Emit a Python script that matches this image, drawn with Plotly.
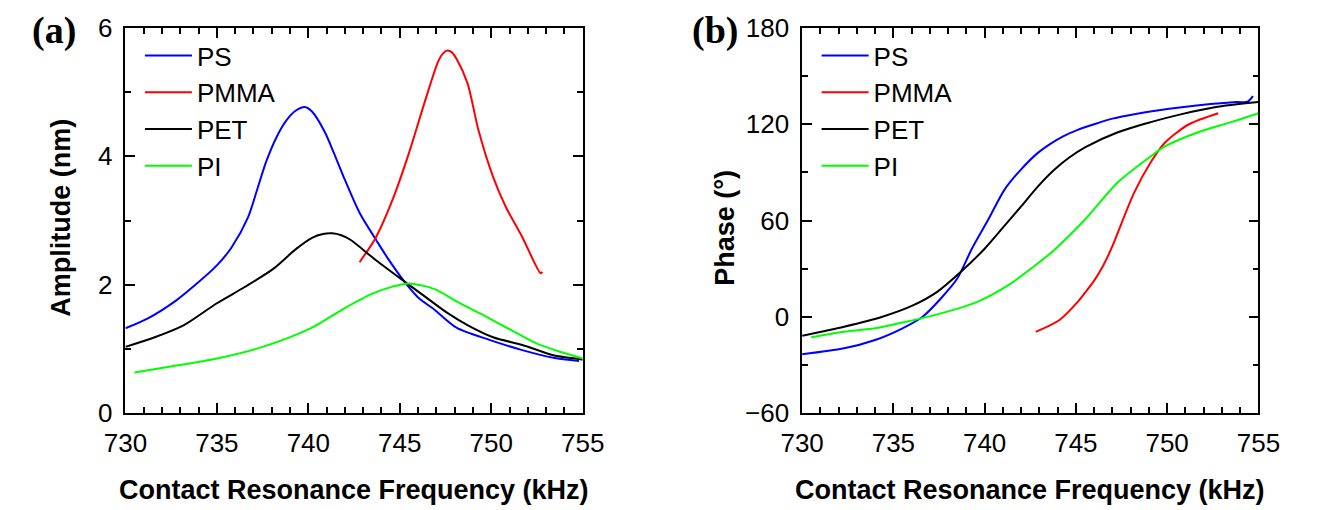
import plotly.graph_objects as go

# ---------------- data ----------------
# (a) Amplitude (nm) vs contact resonance frequency (kHz)
ps_amp_f = [730.0, 731.2, 732.8, 734.0, 735.0, 735.8, 736.7, 737.2, 737.7, 738.3, 738.8, 739.3, 739.8,
            740.2, 740.9, 741.4, 741.9, 742.8, 743.7, 744.3, 745.3, 746.0, 746.9, 748.1, 749.9,
            751.7, 753.4, 754.8]
ps_amp = [1.32, 1.47, 1.76, 2.04, 2.30, 2.58, 3.05, 3.48, 3.92, 4.32, 4.56, 4.71, 4.77,
          4.70, 4.38, 4.05, 3.70, 3.12, 2.70, 2.43, 2.03, 1.80, 1.61, 1.33, 1.14,
          0.98, 0.86, 0.81]

pmma_amp_f = [742.8, 743.7, 744.6, 745.5, 746.4, 747.1, 747.35, 747.6, 747.85, 748.1, 748.7, 749.3,
              750.1, 750.8, 751.7, 752.7, 752.8]
pmma_amp = [2.35, 2.74, 3.32, 4.05, 4.88, 5.48, 5.60, 5.65, 5.62, 5.52, 5.14, 4.41,
            3.68, 3.21, 2.74, 2.18, 2.20]

pet_amp_f = [730.0, 731.6, 733.2, 735.0, 736.5, 738.1, 739.3, 740.2, 740.8, 741.3, 741.8, 742.3,
             743.7, 745.3, 746.4, 747.6, 748.7, 750.1, 751.7, 753.4, 754.8, 755.0]
pet_amp = [1.03, 1.18, 1.37, 1.71, 1.96, 2.25, 2.55, 2.73, 2.79, 2.80, 2.77, 2.70,
           2.38, 2.04, 1.81, 1.56, 1.37, 1.18, 1.06, 0.90, 0.84, 0.83]

pi_amp_f = [730.5, 732.4, 735.0, 737.5, 740.2, 741.9, 743.5, 744.6, 745.5, 746.9, 748.1, 749.6,
            751.1, 752.5, 753.8, 755.0]
pi_amp = [0.63, 0.72, 0.85, 1.03, 1.33, 1.62, 1.86, 1.97, 2.02, 1.93, 1.74, 1.52,
          1.29, 1.08, 0.95, 0.85]

# (b) Phase (deg) vs contact resonance frequency (kHz)
ps_ph_f = [730.0, 732.3, 734.0, 735.5, 736.6, 737.6, 738.5, 739.3, 740.2, 741.1, 742.0, 742.9,
           743.6, 744.3, 745.1, 746.0, 747.0, 748.2, 750.8, 753.8, 754.4, 754.7]
ps_ph = [-23.4, -19.7, -14.5, -7.2, 0.0, 11.4, 23.8, 42.4, 60.6, 79.4, 91.9, 102.0,
         107.8, 112.5, 116.5, 120.0, 123.5, 126.3, 130.6, 133.8, 134.0, 137.5]

pmma_ph_f = [742.8, 744.1, 745.1, 745.5, 746.0, 746.5, 747.0, 747.3, 748.2, 749.1, 749.9, 751.2, 752.8]
pmma_ph = [-9.4, -2.0, 9.3, 15.0, 22.5, 32.0, 44.0, 52.5, 77.5, 96.3, 108.8, 120.0, 126.9]

pet_ph_f = [730.0, 732.3, 734.4, 736.1, 737.4, 738.7, 740.0, 741.0, 742.0, 742.9, 743.8, 744.6,
            745.5, 747.3, 749.1, 750.8, 752.6, 755.0]
pet_ph = [-11.8, -6.2, 0.0, 7.2, 15.5, 28.0, 42.4, 55.5, 68.8, 81.0, 91.5, 99.0,
          105.6, 115.0, 121.3, 126.3, 130.6, 133.8]

pi_ph_f = [730.5, 732.3, 734.0, 735.7, 737.6, 739.6, 741.3, 742.6, 743.8, 745.5, 747.3, 749.1,
           749.9, 751.7, 753.5, 755.0]
pi_ph = [-12.8, -9.3, -7.2, -3.1, 2.1, 9.3, 19.7, 30.5, 41.5, 60.6, 83.8, 100.0,
         106.3, 115.0, 121.3, 126.9]

series_names = ["PS", "PMMA", "PET", "PI"]
series_colors = ["#0000FF", "#FF0000", "#000000", "#00FF00"]

x_ticks = [730, 735, 740, 745, 750, 755]
amp_ticks = [0, 2, 4, 6]
phase_ticks = [-60, 0, 60, 120, 180]

x_title = "Contact Resonance Frequency (kHz)"
amp_title = "Amplitude (nm)"
phase_title = "Phase (°)"

# ---------------- figure ----------------
W, H = 1321, 510
FONT = "Liberation Sans, Arial, sans-serif"
fig = go.Figure()

amp_sets = [(ps_amp_f, ps_amp), (pmma_amp_f, pmma_amp), (pet_amp_f, pet_amp), (pi_amp_f, pi_amp)]
ph_sets = [(ps_ph_f, ps_ph), (pmma_ph_f, pmma_ph), (pet_ph_f, pet_ph), (pi_ph_f, pi_ph)]

for name, col, (fx, fy) in zip(series_names, series_colors, amp_sets):
    fig.add_trace(go.Scatter(x=fx, y=fy, mode="lines", name=name,
                             line=dict(color=col, width=2, shape="spline", smoothing=0.8),
                             xaxis="x", yaxis="y", legend="legend",
                             legendgroup="a" + name))
for name, col, (fx, fy) in zip(series_names, series_colors, ph_sets):
    fig.add_trace(go.Scatter(x=fx, y=fy, mode="lines", name=name,
                             line=dict(color=col, width=2, shape="spline", smoothing=0.8),
                             xaxis="x2", yaxis="y2", legend="legend2",
                             legendgroup="b" + name))

axis_common = dict(showline=True, linecolor="black", linewidth=1.6, mirror="allticks",
                   ticks="inside", ticklen=10, tickwidth=1.6, tickcolor="black",
                   showgrid=False, zeroline=False,
                   tickfont=dict(family=FONT, size=26, color="black"))
minor_common = dict(ticks="inside", ticklen=6, tickwidth=1.6, tickcolor="black")

L0, L1 = 107 / W, 580 / W
R0, R1 = 807 / W, 1279 / W

fig.update_layout(
    width=W, height=H,
    margin=dict(l=0, r=0, t=28, b=97),
    paper_bgcolor="white", plot_bgcolor="white",
    showlegend=True,
    xaxis=dict(domain=[L0, L1], range=[730, 755], tickvals=x_ticks,
               minor=dict(dtick=1, **minor_common),
               ticklabelstandoff=6, anchor="y", **axis_common),
    yaxis=dict(domain=[0, 1], range=[0, 6], tickvals=amp_ticks,
               minor=dict(dtick=1, **minor_common),
               ticklabelstandoff=6, anchor="x", **axis_common),
    xaxis2=dict(domain=[R0, R1], range=[730, 755], tickvals=x_ticks,
                minor=dict(dtick=1, **minor_common),
                ticklabelstandoff=6, anchor="y2", **axis_common),
    yaxis2=dict(domain=[0, 1], range=[-60, 180], tickvals=phase_ticks,
                minor=dict(tick0=-60, dtick=30, **minor_common),
                ticklabelstandoff=6, anchor="x2", **axis_common),
    legend=dict(x=122 / W, xanchor="left", y=1 - 4 / 385, yanchor="top",
                bgcolor="rgba(0,0,0,0)", borderwidth=0, itemwidth=47,
                tracegroupgap=4, traceorder="normal",
                font=dict(family=FONT, size=26, color="black")),
    legend2=dict(x=822 / W, xanchor="left", y=1 - 4 / 385, yanchor="top",
                 bgcolor="rgba(0,0,0,0)", borderwidth=0, itemwidth=47,
                 tracegroupgap=4, traceorder="normal",
                 font=dict(family=FONT, size=26, color="black")),
)

def py(y_px):
    # convert a pixel row to paper y (plot area from 28 to 413)
    return (413 - y_px) / 385

annots = [
    dict(text="<b>(a)</b>", x=8 / W, y=py(30), xanchor="left", yanchor="middle",
         font=dict(family="Liberation Serif, Times New Roman, serif", size=38, color="black")),
    dict(text="<b>(b)</b>", x=691 / W, y=py(30), xanchor="left", yanchor="middle",
         font=dict(family="Liberation Serif, Times New Roman, serif", size=38, color="black")),
    dict(text="<b>" + x_title + "</b>", x=(L0 + L1) / 2, y=py(490), xanchor="center", yanchor="middle",
         font=dict(family=FONT, size=27, color="black")),
    dict(text="<b>" + x_title + "</b>", x=(R0 + R1) / 2, y=py(490), xanchor="center", yanchor="middle",
         font=dict(family=FONT, size=27, color="black")),
    dict(text="<b>" + amp_title + "</b>", x=40 / W, y=py(218), xanchor="center", yanchor="middle",
         textangle=-90, font=dict(family=FONT, size=27, color="black")),
    dict(text="<b>" + phase_title + "</b>", x=727 / W, y=py(228), xanchor="center", yanchor="middle",
         textangle=-90, font=dict(family=FONT, size=27, color="black")),
]
for a in annots:
    fig.add_annotation(xref="paper", yref="paper", showarrow=False, **a)

fig.write_html("out.html")
